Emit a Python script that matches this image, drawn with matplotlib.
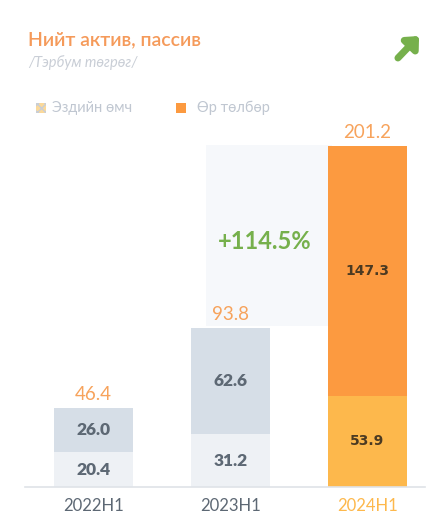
import numpy as np
import matplotlib.pyplot as plt
from matplotlib.patches import Rectangle

# Data (billion MNT)
periods = ["2022H1", "2023H1", "2024H1"]
equity = [20.4, 31.2, 53.9]
liabilities = [26.0, 62.6, 147.3]
totals = [46.4, 93.8, 201.2]
growth_label = "+114.5%"

W, H = 434, 524
fig = plt.figure(figsize=(W / 100, H / 100), dpi=100)
fig.patch.set_facecolor("white")

# axes placed in pixel terms: x 25..425, y-bottom at 487px, top at 130px
ax = fig.add_axes([25 / W, (H - 487) / H, 400 / W, (487 - 130) / H])
ax.set_xlim(-0.5, 2.42)
ax.set_ylim(0, 210.6)
ax.patch.set_alpha(0)

# faint band behind growth label
ax.add_patch(Rectangle((0.82, 95), 0.92, 107, facecolor="#f6f8fb",
                       edgecolor="none", zorder=0))

x = np.arange(len(periods))
bottom_cols = ["#eef1f5", "#eef1f5", "#fdb84c"]
top_cols = ["#d6dee7", "#d6dee7", "#fc9a40"]
width = 0.57
ax.bar(x, equity, width, color=bottom_cols, zorder=2)
ax.bar(x, liabilities, width, bottom=equity, color=top_cols, zorder=2)

for i in range(len(periods)):
    if i < 2:
        kw = dict(color="#5d6874", fontsize=12.5, fontweight="heavy", family="Lato")
    else:
        kw = dict(color="#4b3a22", fontsize=10, fontweight="bold",
                  family="Liberation Sans Narrow")
    ax.text(x[i], equity[i] / 2, f"{equity[i]:.1f}", ha="center", va="center", zorder=3, **kw)
    ax.text(x[i], equity[i] + liabilities[i] / 2, f"{liabilities[i]:.1f}",
            ha="center", va="center", zorder=3, **kw)
    ax.text(x[i], totals[i] + 3, f"{totals[i]:.1f}", ha="center", va="bottom",
            color="#f7a35c", fontsize=13.5, family="Lato", zorder=3)

ax.text(1.25, 145, growth_label, ha="center", va="center", color="#76b04c",
        fontsize=17, fontweight="bold", family="Lato")

for s in ["top", "right", "left"]:
    ax.spines[s].set_visible(False)
ax.spines["bottom"].set_color("#dfe3e8")
ax.spines["bottom"].set_linewidth(1.2)
ax.set_yticks([])
ax.set_xticks(x)
ax.set_xticklabels(periods, fontsize=12, family="Lato")
ax.tick_params(axis="x", length=0, pad=8)
for lab, c in zip(ax.get_xticklabels(), ["#5d6874", "#5d6874", "#fdb84c"]):
    lab.set_color(c)

# title, subtitle
fig.text(28 / W, 1 - 40 / H, "Нийт актив, пассив", color="#f59a5a", fontsize=14,
         fontweight="semibold", family="Lato", va="center")
fig.text(28 / W, 1 - 63 / H, "/Тэрбум төгрөг/", color="#c9ced6", fontsize=10.5,
         style="italic", family="Lato", va="center")

# legend
fig.patches.append(Rectangle((36 / W, 1 - 113 / H), 10 / W, 10 / H, facecolor="#fbd99a",
                             edgecolor="#c9ced6", hatch="xxxx", linewidth=0,
                             transform=fig.transFigure, figure=fig))
fig.text(52 / W, 1 - 108 / H, "Эздийн өмч", color="#c0c7d1", fontsize=10.5,
         family="Lato", va="center")
fig.patches.append(Rectangle((176 / W, 1 - 113 / H), 10 / W, 10 / H, facecolor="#fc9a40",
                             edgecolor="none", transform=fig.transFigure, figure=fig))
fig.text(197 / W, 1 - 108 / H, "Өр төлбөр", color="#c0c7d1", fontsize=10.5,
         family="Lato", va="center")

# green arrow top-right
ax.annotate("", xy=(421, H - 34), xycoords="figure pixels",
            xytext=(396, H - 60), textcoords="figure pixels",
            arrowprops=dict(arrowstyle="-|>,head_width=0.55,head_length=0.6",
                            color="#76b04c", lw=5))

fig.savefig("out.png", dpi=100)
